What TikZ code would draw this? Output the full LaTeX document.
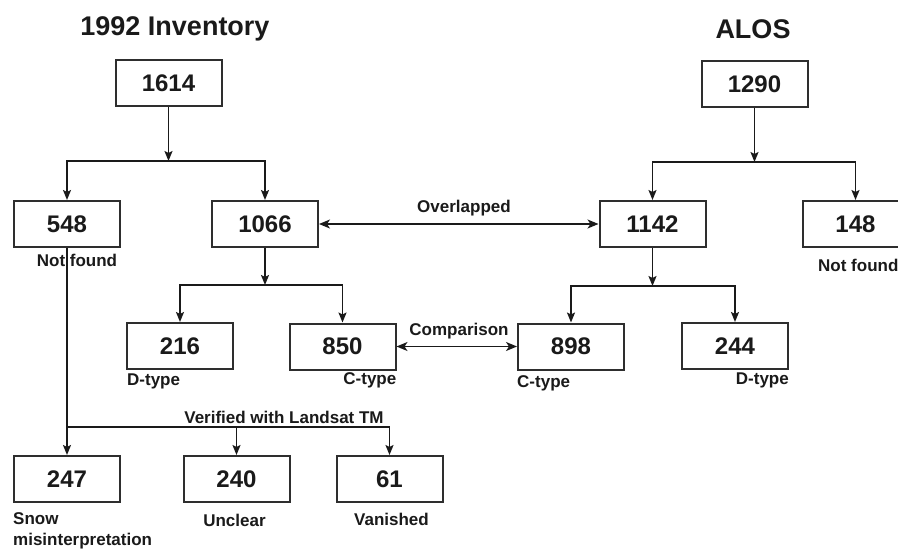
\documentclass[tikz,border=0pt]{standalone}
\usepackage{fontspec}
\setmainfont{Liberation Sans}
\usetikzlibrary{arrows.meta}
\definecolor{ink}{HTML}{1A1A1A}
\definecolor{edge}{HTML}{2E2E2E}
\tikzset{
  numbox/.style={draw=edge, line width=2pt, minimum width=106pt, minimum height=46pt,
    inner sep=0pt, font=\fontsize{24}{24}\selectfont\bfseries, text=ink},
  title/.style={font=\fontsize{27}{27}\selectfont\bfseries, text=ink, inner sep=0pt},
  lbl/.style={font=\fontsize{17}{17}\selectfont\bfseries, text=ink, inner sep=0pt},
  conn/.style={draw=ink, line width=1.7pt},
  arr/.style={conn, -{Stealth[length=10pt,width=8pt,inset=2pt]}},
  darr/.style={conn, {Stealth[length=11pt,width=9pt,inset=3pt]}-{Stealth[length=11pt,width=9pt,inset=3pt]}}
}
\begin{document}
\begin{tikzpicture}[x=1pt,y=-1pt]
\clip (0,0) rectangle (898,549);
\fill[white] (0,0) rectangle (898,549);

% titles
\node[title] (t1) at (175,29) {1992 Inventory};
\node[title] (t2) at (753,29) {ALOS};

% boxes
\node[numbox] (n1614) at (168.5,83) {1614};
\node[numbox] (n1290) at (754.5,84) {1290};
\node[numbox] (n548)  at (67,224) {548};
\node[numbox] (n1066) at (265,224) {1066};
\node[numbox] (n1142) at (652.5,224) {1142};
\node[numbox] (n148)  at (855.5,224) {148};
\node[numbox] (n216)  at (180,346) {216};
\node[numbox] (n850)  at (342.5,346.5) {850};
\node[numbox] (n898)  at (571,346.5) {898};
\node[numbox] (n244)  at (735,346) {244};
\node[numbox] (n247)  at (67,479) {247};
\node[numbox] (n240)  at (236.5,479) {240};
\node[numbox] (n61)   at (389.5,479) {61};

% labels
\node[lbl] (l548) at (77,260) {Not found};
\node[lbl, anchor=west] (l148) at (818,265) {Not found};
\node[lbl, anchor=west] (l216) at (127,381) {D-type};
\node[lbl, anchor=east] (l850) at (396.5,380) {C-type};
\node[lbl, anchor=west] (l898) at (517,383) {C-type};
\node[lbl, anchor=east] (l244) at (789,380) {D-type};
\node[lbl] (lover) at (464,208.5) {Overlapped};
\node[lbl] (lcomp) at (459,331) {Comparison};
\node[lbl] (lver) at (284,417.5) {Verified with Landsat TM};
\node[lbl, anchor=west] (lsnow) at (13,518.5) {Snow};
\node[lbl, anchor=west] (lmis) at (13,541.5) {misinterpretation};
\node[lbl] (lunc) at (234.5,520.5) {Unclear};
\node[lbl] (lvan) at (391.5,519.5) {Vanished};

% junctions
\coordinate (j1) at (168.5,161);
\coordinate (j2) at (754.5,162);
\coordinate (j3) at (265,285);
\coordinate (j4) at (652.5,286);
\coordinate (j5) at (67,427);

% connectors
\draw[arr] (n1614.south) -- (j1);
\draw[arr] (j1) -| (n548.north);
\draw[arr] (j1) -| (n1066.north);
\draw[arr] (n1290.south) -- (j2);
\draw[arr] (j2) -| (n1142.north);
\draw[arr] (j2) -| (n148.north);
\draw[arr] (n1066.south) -- (j3);
\draw[arr] (j3) -| (n216.north);
\draw[arr] (j3) -| (n850.north);
\draw[arr] (n1142.south) -- (j4);
\draw[arr] (j4) -| (n898.north);
\draw[arr] (j4) -| (n244.north);
\draw[arr] (n548.south) -- (n247.north);
\draw[arr] (j5) -| (n240.north);
\draw[arr] (j5) -| (n61.north);
\draw[darr] (n1066.east) -- (n1142.west);
\draw[darr] (n850.east) -- (n898.west);
\end{tikzpicture}
\end{document}
